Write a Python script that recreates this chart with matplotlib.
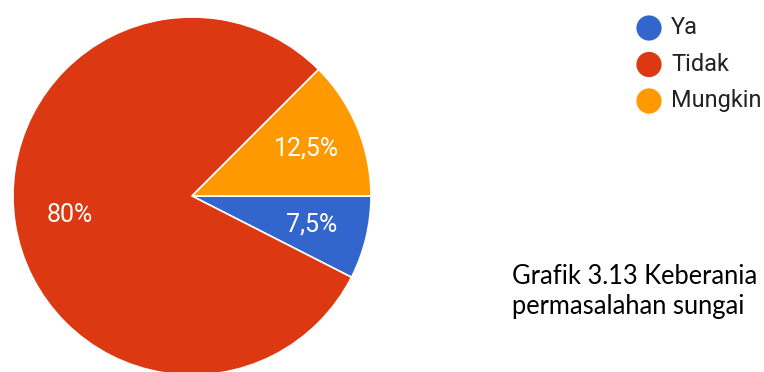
import matplotlib
matplotlib.use('Agg')
import matplotlib.pyplot as plt

# response shares (percent)
categories = ['Ya', 'Tidak', 'Mungkin']
shares = [7.5, 80.0, 12.5]
colors = ['#3366CC', '#DC3912', '#FF9900']
caption_lines = ['Grafik 3.13 Keberania', 'permasalahan sungai']

W, H = 764, 372


def fmt_pct(pct):
    return f'{round(pct, 1):g}'.replace('.', ',') + '%'


def main():
    fig = plt.figure(figsize=(W / 100, H / 100), dpi=100)
    ax = fig.add_axes([0, 0, 1, 1])

    ax.pie(
        shares, colors=colors, startangle=0, counterclock=False,
        center=(192, H - 196), radius=179, autopct=fmt_pct, pctdistance=0.69,
        wedgeprops=dict(edgecolor='white', linewidth=1.2),
        textprops=dict(color='white', fontsize=18, family='Roboto'),
        frame=True)
    ax.set_xlim(0, W)
    ax.set_ylim(0, H)
    ax.set_aspect('equal')
    ax.axis('off')

    # legend drawn by hand: dot + label per category
    for i, (name, col) in enumerate(zip(categories, colors)):
        y = H - (28 + i * 36.5)
        ax.scatter([649], [y], s=330, color=col, edgecolors='none', zorder=5)
        ax.text(671, y, name, fontsize=16.9, family='Roboto', color='#222222',
                va='center', ha='left')

    for i, line in enumerate(caption_lines):
        fig.text(512 / W, 1 - (284 + i * 30) / H, line, fontsize=18.4,
                 family='Lato', color='black', va='baseline', ha='left')

    fig.savefig('out.png', dpi=100)


if __name__ == '__main__':
    main()
